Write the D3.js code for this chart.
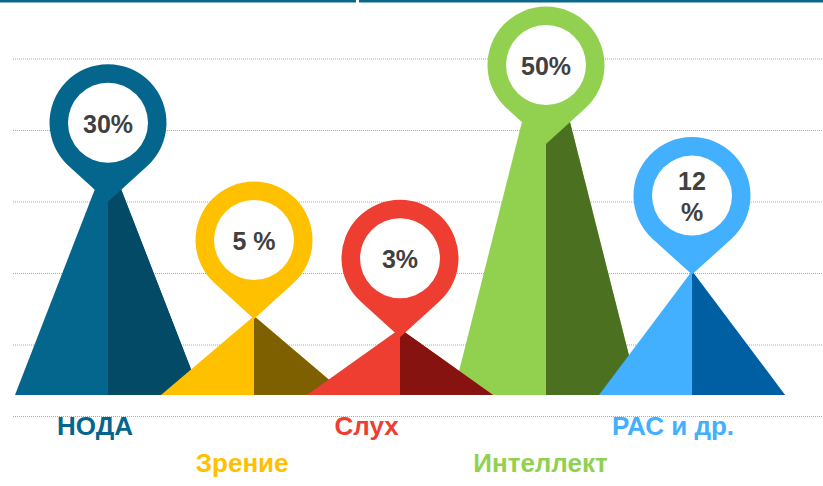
<!DOCTYPE html>
<html>
<head>
<meta charset="utf-8">
<script src="https://cdn.jsdelivr.net/npm/d3@7"></script>
<style>
  body { margin: 0; background: #fff; }
  svg { display: block; font-family: "Liberation Sans", Arial, sans-serif; }
</style>
</head>
<body>
<svg id="chart" width="823" height="486"></svg>
<script>
const categories = ["НОДА", "Зрение", "Слух", "Интеллект", "РАС и др."];
const values = [30, 5, 3, 50, 12];
const valueLabels = [["30%"], ["5 %"], ["3%"], ["50%"], ["12", "%"]];
const lightColors = ["#05668D", "#FFC000", "#EE3E32", "#92D050", "#42AFFF"];
const darkColors = ["#034A66", "#7F6000", "#86130F", "#4A7020", "#005FA3"];
const gridTicks = [0, 10, 20, 30, 40, 50];

const width = 823;
const height = 486;
const BASE_Y = 395;
const HALF_W = 93;
const R_OUT = 58.5;
const R_IN = 40;
const TIP = 79;

const svg = d3.select("#chart");

const data = categories.map((c, i) => ({
  name: c,
  value: values[i],
  label: valueLabels[i],
  light: lightColors[i],
  dark: darkColors[i],
  i,
}));

// scales
const x = d3.scalePoint().domain(categories).range([108, 692]);
const xLabel = d3.scalePoint().domain(categories).range([57, 612]);
const yApex = d3.scaleLinear().domain([0, 50]).range([348, 27]);
const yPin = d3.scaleSqrt().domain([0, 50]).range([321, 65]);
const yGrid = d3.scaleLinear().domain([0, 50]).range([416.5, 59]);

// top rule
svg.append("rect").attr("x", 0).attr("y", 0).attr("width", 356).attr("height", 2.5).attr("fill", "#0B6888");
svg.append("rect").attr("x", 359).attr("y", 0).attr("width", width - 359).attr("height", 2.5).attr("fill", "#0B6888");

// dotted gridlines
svg.append("g")
  .selectAll("line")
  .data(gridTicks)
  .join("line")
  .attr("x1", 13)
  .attr("x2", width)
  .attr("y1", (d) => yGrid(d))
  .attr("y2", (d) => yGrid(d))
  .attr("stroke", "#ABABAB")
  .attr("stroke-width", 1)
  .attr("stroke-dasharray", "1,1");

// triangles, tallest drawn first so lower ones sit on top
const sorted = data.slice().sort((a, b) => b.value - a.value);
const gTri = svg.append("g");
sorted.forEach((d) => {
  const cx = x(d.name);
  const ay = yApex(d.value);
  gTri.append("path")
    .attr("d", `M${cx},${ay} L${cx + HALF_W},${BASE_Y} L${cx - HALF_W},${BASE_Y} Z`)
    .attr("fill", d.light);
  gTri.append("path")
    .attr("d", `M${cx},${ay} L${cx + HALF_W},${BASE_Y} L${cx},${BASE_Y} Z`)
    .attr("fill", d.dark);
});

// pins
function pinPath(cx, cy) {
  const c = R_OUT / TIP;
  const s = Math.sqrt(1 - c * c);
  const tx = R_OUT * s;
  const ty = R_OUT * c;
  return `M${cx},${cy + TIP} L${cx + tx},${cy + ty} A${R_OUT},${R_OUT} 0 1 0 ${cx - tx},${cy + ty} Z`;
}

const pins = svg.append("g")
  .selectAll("g")
  .data(data)
  .join("g")
  .attr("transform", (d) => `translate(${x(d.name)},${yPin(d.value)})`);

pins.append("path")
  .attr("d", pinPath(0, 0))
  .attr("fill", (d) => d.light);

pins.append("circle")
  .attr("r", R_IN)
  .attr("fill", "#fff");

pins.append("text")
  .attr("text-anchor", "middle")
  .attr("fill", "#404040")
  .attr("font-size", 25)
  .attr("font-weight", "bold")
  .each(function (d) {
    const lines = d.label;
    const first = lines.length === 1 ? 10 : -6;
    d3.select(this)
      .selectAll("tspan")
      .data(lines)
      .join("tspan")
      .attr("x", 0)
      .attr("y", (l, k) => first + k * 31)
      .text((l) => l);
  });

// category labels, staggered on two rows
svg.append("g")
  .selectAll("text")
  .data(data)
  .join("text")
  .attr("x", (d) => xLabel(d.name))
  .attr("y", (d) => (d.i % 2 ? 472 : 435))
  .attr("text-anchor", "start")
  .attr("font-size", 26)
  .attr("font-weight", "bold")
  .attr("fill", (d) => d.light)
  .text((d) => d.name);
</script>
</body>
</html>
